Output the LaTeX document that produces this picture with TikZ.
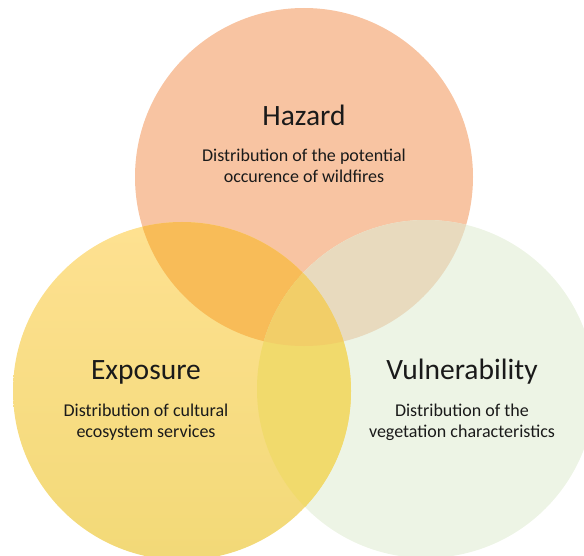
\documentclass[tikz,border=0pt]{standalone}
\usepackage{fontspec}
\setmainfont{Carlito}
\definecolor{hzc}{HTML}{F8C4A2}
\definecolor{vuc}{HTML}{EDF4E5}
\definecolor{exT}{HTML}{FEE191}
\definecolor{exB}{HTML}{F2D977}
\definecolor{hec}{HTML}{F8BC58}
\definecolor{hvc}{HTML}{E8DABE}
\definecolor{evc}{HTML}{F1DA6C}
\definecolor{allc}{HTML}{F2CE68}
\definecolor{txt}{HTML}{1A1A1A}
\begin{document}
\begin{tikzpicture}[x=1pt,y=-1pt,
  ttl/.style={text=txt,font=\fontsize{29.5}{33}\selectfont,inner sep=0pt},
  sub/.style={text=txt,font=\fontsize{18}{21}\selectfont,align=center,inner sep=0pt}]
\useasboundingbox (0,0) rectangle (584,556);
\clip (0,0) rectangle (584,556);
\def\cHz{(304,177) circle (169)}
\def\cEx{(182,391) circle (169)}
\def\cVu{(426,389) circle (169)}
% base circles
\fill[hzc] \cHz;
\fill[vuc] \cVu;
\shade[top color=exT,bottom color=exB] \cEx;
% overlaps
\begin{scope}\clip \cHz; \fill[hec] \cEx; \end{scope}
\begin{scope}\clip \cHz; \fill[hvc] \cVu; \end{scope}
\begin{scope}\clip \cEx; \fill[evc] \cVu; \end{scope}
\begin{scope}\clip \cHz; \clip \cEx; \fill[allc] \cVu; \end{scope}
% texts
\node[ttl] (hzt) at (304,115) {Hazard};
\node[sub] (hzs) at (304,166) {Distribution of the potential\\occurence of wildfires};
\node[ttl] (ext) at (146,372) {Exposure};
\node[sub] (exs) at (146,422.5) {Distribution of cultural\\ecosystem services};
\node[ttl] (vut) at (462,372) {Vulnerability};
\node[sub] (vus) at (462,422.5) {Distribution of the\\vegetation characteristics};
\end{tikzpicture}
\end{document}
